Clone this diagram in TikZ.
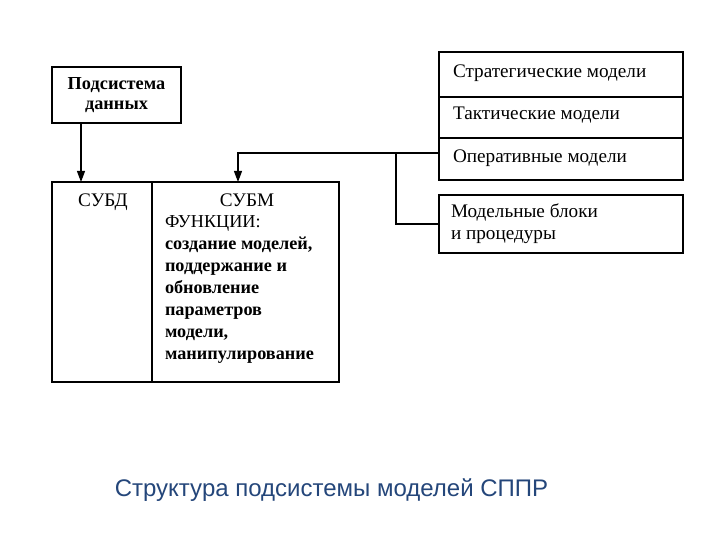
\documentclass[tikz,border=0pt]{standalone}
\usepackage{fontspec}
\setmainfont{Liberation Serif}
\newfontfamily\titlefont{Liberation Sans}
\usetikzlibrary{arrows.meta,calc}
\definecolor{titleblue}{HTML}{24467A}
\tikzset{
  box/.style={draw=black, line width=1.1pt, inner sep=0pt, outer sep=0pt},
  arr/.style={line width=1.1pt, -{Triangle[length=11pt,width=8pt]}},
  conn/.style={line width=1.1pt},
  txt/.style={inner sep=0pt, outer sep=0pt, font=\fontsize{19.2}{22}\selectfont},
}
\begin{document}
\begin{tikzpicture}[x=1pt,y=-1pt]
\useasboundingbox (0,0) rectangle (720,540);
% data subsystem
\node[box, minimum width=129pt, minimum height=56pt, align=center,
      font=\fontsize{18.3}{20}\selectfont\bfseries] (ps) at (116.5,95) {Подсистема\\данных};
% main box
\node[box, minimum width=100pt, minimum height=200pt] (subd) at (102,282) {};
\node[box, minimum width=187pt, minimum height=200pt] (subm) at (245.5,282) {};
\node[txt, anchor=base] (subdt) at (103,207) {СУБД};
\node[txt, anchor=base] (submt) at (247,207) {СУБМ};
\node[txt, anchor=north west, align=left, font=\fontsize{18.2}{21.9}\selectfont] (func) at (165,216)
  {ФУНКЦИИ:\\\bfseries создание моделей,\\\bfseries поддержание и\\\bfseries обновление\\\bfseries параметров\\\bfseries модели,\\\bfseries манипулирование};
% right stack
\node[box, minimum width=244pt, minimum height=45pt] (str) at (561,74.5) {};
\node[box, minimum width=244pt, minimum height=41pt] (tak) at (561,117.5) {};
\node[box, minimum width=244pt, minimum height=42pt] (opm) at (561,159) {};
\node[box, minimum width=244pt, minimum height=58pt] (blk) at (561,224) {};
\node[txt, anchor=west] (strt) at (453,73) {Стратегические модели};
\node[txt, anchor=west] (takt) at (453,115) {Тактические модели};
\node[txt, anchor=west] (opmt) at (453,158) {Оперативные модели};
\node[txt, anchor=north west, align=left] (blkt) at (451,204) {Модельные блоки\\и процедуры};
% connectors
\draw[arr] ([xshift=29pt]ps.south west) -- ([xshift=29pt]ps.south west |- subd.north);
\coordinate (j) at ([yshift=6pt]opm.west);
\coordinate (c) at (238,153);
\coordinate (k) at (396,153);
\draw[arr] (j) -- (c) -- (c |- subm.north);
\draw[conn] (k) |- (blk.west);
% title
\node[inner sep=0pt, anchor=base, text=titleblue, font=\titlefont\fontsize{24}{28}\selectfont] (title) at (331.5,496) {Структура подсистемы моделей СППР};
\end{tikzpicture}
\end{document}
